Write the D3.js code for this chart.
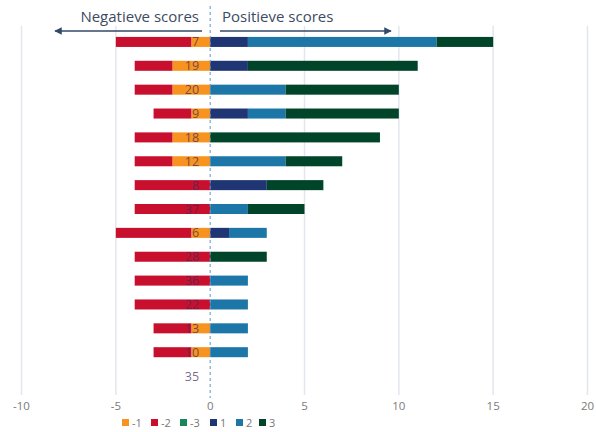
<!DOCTYPE html>
<html>
<head>
<meta charset="utf-8">
<script src="https://cdn.jsdelivr.net/npm/d3@7"></script>
<style>
  body { margin: 0; background: #fff; }
  svg { display: block; font-family: "Open Sans", "Noto Sans", sans-serif; }
</style>
</head>
<body>
<svg></svg>
<script>
var width = 596,
	height = 432;

// data
var categories = ["7", "19", "20", "9", "18", "12", "8", "37", "6", "28", "36", "22", "13", "10", "35"];
var neg1 = [1, 2, 2, 1, 2, 2, 0, 0, 1, 0, 0, 0, 1, 1, 0];
var neg2 = [4, 2, 2, 2, 2, 2, 4, 4, 4, 4, 4, 4, 2, 2, 0];
var neg3 = [0, 0, 0, 0, 0, 0, 0, 0, 0, 0, 0, 0, 0, 0, 0];
var pos1 = [2, 2, 0, 2, 0, 0, 3, 0, 1, 0, 0, 0, 0, 0, 0];
var pos2 = [10, 0, 4, 2, 0, 4, 0, 2, 2, 0, 2, 2, 2, 2, 0];
var pos3 = [3, 9, 6, 6, 9, 3, 3, 3, 0, 3, 0, 0, 0, 0, 0];
var ticks = [-10, -5, 0, 5, 10, 15, 20];
var legendKeys = ["-1", "-2", "-3", "1", "2", "3"];
var colours = ["#f7931e", "#c8102e", "#16875a", "#1f3574", "#1c77a8", "#00452a"];

var svg = d3.select("svg").attr("width", width).attr("height", height);

var x = d3.scaleLinear().domain([-10, 20]).range([21.5, 587.5]);
var y = d3.scaleBand().domain(categories).range([30, 388]).paddingInner(0.58).paddingOuter(0.29);

// grid
svg.append("g")
	.selectAll("line")
	.data(ticks.filter((t) => t !== 0))
	.enter()
	.append("line")
	.attr("x1", (d) => x(d))
	.attr("x2", (d) => x(d))
	.attr("y1", 26)
	.attr("y2", 395)
	.attr("stroke", "#e2e6ee")
	.attr("stroke-width", 1.5);

// stacked segments: negatives go left from 0, positives right
var series = [
	{ key: "-1", vals: neg1, sign: -1, before: [] },
	{ key: "-2", vals: neg2, sign: -1, before: [neg1] },
	{ key: "-3", vals: neg3, sign: -1, before: [neg1, neg2] },
	{ key: "1", vals: pos1, sign: 1, before: [] },
	{ key: "2", vals: pos2, sign: 1, before: [pos1] },
	{ key: "3", vals: pos3, sign: 1, before: [pos1, pos2] },
];

var bars = svg.append("g");
series.forEach((s, si) => {
	var segs = categories.map((c, i) => {
		let start = s.before.reduce((acc, arr) => acc + arr[i], 0);
		return { cat: c, a: s.sign * start, b: s.sign * (start + s.vals[i]) };
	}).filter((d) => d.a !== d.b);
	bars.selectAll(null)
		.data(segs)
		.enter()
		.append("rect")
		.attr("x", (d) => x(Math.min(d.a, d.b)))
		.attr("width", (d) => Math.abs(x(d.b) - x(d.a)))
		.attr("y", (d) => y(d.cat))
		.attr("height", y.bandwidth())
		.attr("fill", colours[si]);
});

// zero line
svg.append("line")
	.attr("x1", x(0))
	.attr("x2", x(0))
	.attr("y1", 6)
	.attr("y2", 398)
	.attr("stroke", "#5b95cc")
	.attr("stroke-width", 1)
	.attr("stroke-dasharray", "3,3");

// category labels
svg.append("g")
	.selectAll("text")
	.data(categories)
	.enter()
	.append("text")
	.attr("x", x(0) - 11)
	.attr("y", (d) => y(d) + y.bandwidth() / 2)
	.attr("dy", "0.36em")
	.attr("text-anchor", "end")
	.attr("font-size", 12.5)
	.attr("fill", "#3f2a5c")
	.attr("fill-opacity", 0.72)
	.text((d) => d);

// x axis labels
svg.append("g")
	.selectAll("text")
	.data(ticks)
	.enter()
	.append("text")
	.attr("x", (d) => x(d))
	.attr("y", 410)
	.attr("text-anchor", "middle")
	.attr("font-size", 11.5)
	.attr("fill", "#7a7a7a")
	.text((d) => d);

// header with arrows
var defs = svg.append("defs");
defs.append("marker")
	.attr("id", "head")
	.attr("viewBox", "0 0 10 10")
	.attr("refX", 9)
	.attr("refY", 5)
	.attr("markerWidth", 5)
	.attr("markerHeight", 5)
	.attr("orient", "auto")
	.append("path")
	.attr("d", "M0,0L10,5L0,10z")
	.attr("fill", "#34486a");

svg.append("line")
	.attr("x1", 202).attr("x2", 55)
	.attr("y1", 31).attr("y2", 31)
	.attr("stroke", "#34486a").attr("stroke-width", 1.5)
	.attr("marker-end", "url(#head)");
svg.append("line")
	.attr("x1", 220).attr("x2", 391)
	.attr("y1", 31).attr("y2", 31)
	.attr("stroke", "#34486a").attr("stroke-width", 1.5)
	.attr("marker-end", "url(#head)");

svg.append("text")
	.attr("x", 199).attr("y", 22)
	.attr("text-anchor", "end")
	.attr("font-size", 15)
	.attr("fill", "#3c4b63")
	.text("Negatieve scores");
svg.append("text")
	.attr("x", 222).attr("y", 22)
	.attr("font-size", 15)
	.attr("fill", "#3c4b63")
	.text("Positieve scores");

// legend
var legendX = [122, 151, 180, 210, 236, 259];
var lg = svg.append("g")
	.selectAll("g")
	.data(legendKeys)
	.enter()
	.append("g")
	.attr("transform", (d, i) => `translate(${legendX[i]},423)`);
lg.append("rect")
	.attr("x", 0).attr("y", -4)
	.attr("width", 7).attr("height", 7)
	.attr("fill", (d, i) => colours[i]);
lg.append("text")
	.attr("x", 10).attr("y", 0)
	.attr("dy", "0.35em")
	.attr("font-size", 11)
	.attr("fill", "#777")
	.text((d) => d);
</script>
</body>
</html>
